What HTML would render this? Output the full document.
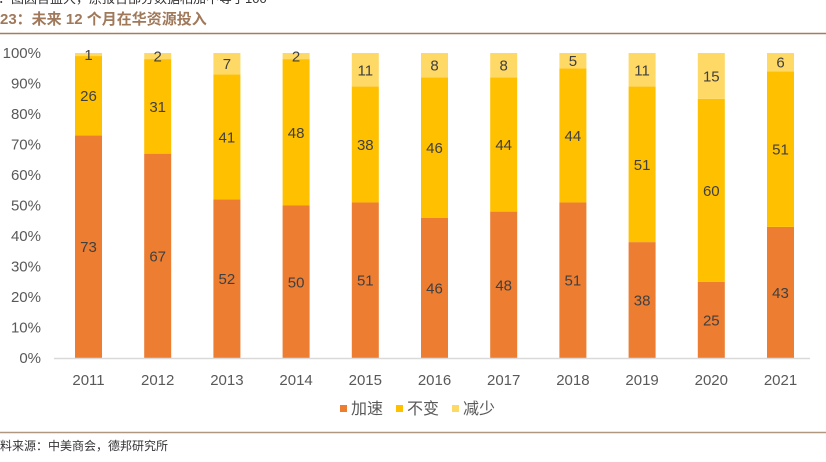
<!DOCTYPE html>
<html><head><meta charset="utf-8"><style>
body{margin:0;background:#fff;width:826px;height:457px;overflow:hidden;font-family:"Liberation Sans","Noto Sans CJK SC",sans-serif}
</style></head><body>
<svg width="826" height="457" xmlns="http://www.w3.org/2000/svg" font-family="Liberation Sans, Noto Sans CJK SC, sans-serif">
<text x="-2" y="3" font-size="13" fill="#333">：图因含监大，原报告部分数据相加不等于100</text>
<text x="0" y="24" font-size="15" font-weight="bold" fill="#a0785a">23：未来 12 个月在华资源投入</text>
<line x1="0" y1="33.5" x2="826" y2="33.5" stroke="#a87c5a" stroke-width="1.5"/>
<line x1="0" y1="432.5" x2="826" y2="432.5" stroke="#b09780" stroke-width="1.5"/>
<text x="0" y="450" font-size="12" fill="#333">料来源：中美商会，德邦研究所</text>
<g font-size="15" fill="#595959" text-anchor="end" id="yl"></g>
<g id="bars"></g>
<line x1="54" y1="358.5" x2="810" y2="358.5" stroke="#d9d9d9" stroke-width="1.5"/>
<g font-size="16" fill="#595959">
<rect x="340" y="405" width="7" height="7" fill="#ed7d31"/><text x="351" y="414">加速</text>
<rect x="396" y="405" width="7" height="7" fill="#ffc000"/><text x="407" y="414">不变</text>
<rect x="452" y="405" width="7" height="7" fill="#ffd966"/><text x="463" y="414">减少</text>
</g>
<script>
var ns="http://www.w3.org/2000/svg";
function el(t,a,txt,p){var e=document.createElementNS(ns,t);for(var k in a)e.setAttribute(k,a[k]);if(txt!=null)e.textContent=txt;p.appendChild(e);return e;}
var yl=document.getElementById('yl'),bars=document.getElementById('bars');
for(var i=0;i<=10;i++){el('text',{x:41,y:358-i*30.5+5},(i*10)+'%',yl);}
var d=[[73,26,1],[67,31,2],[52,41,7],[50,48,2],[51,38,11],[46,46,8],[48,44,8],[51,44,5],[38,51,11],[25,60,15],[43,51,6]];
var c=['#ed7d31','#ffc000','#ffd966'];
d.forEach(function(v,j){var cx=88.5+j*69.2,y=358;
 v.forEach(function(p,k){var h=p*3.05;el('rect',{x:cx-13.5,y:y-h,width:27,height:h,fill:c[k]},null,bars);
  el('text',{x:cx,y:y-h/2+5.5,'font-size':15,fill:'#404040','text-anchor':'middle'},p,bars);y-=h;});
 el('text',{x:cx,y:385,'font-size':15,fill:'#595959','text-anchor':'middle'},2011+j,bars);
});
</script>
</svg>
</body></html>
